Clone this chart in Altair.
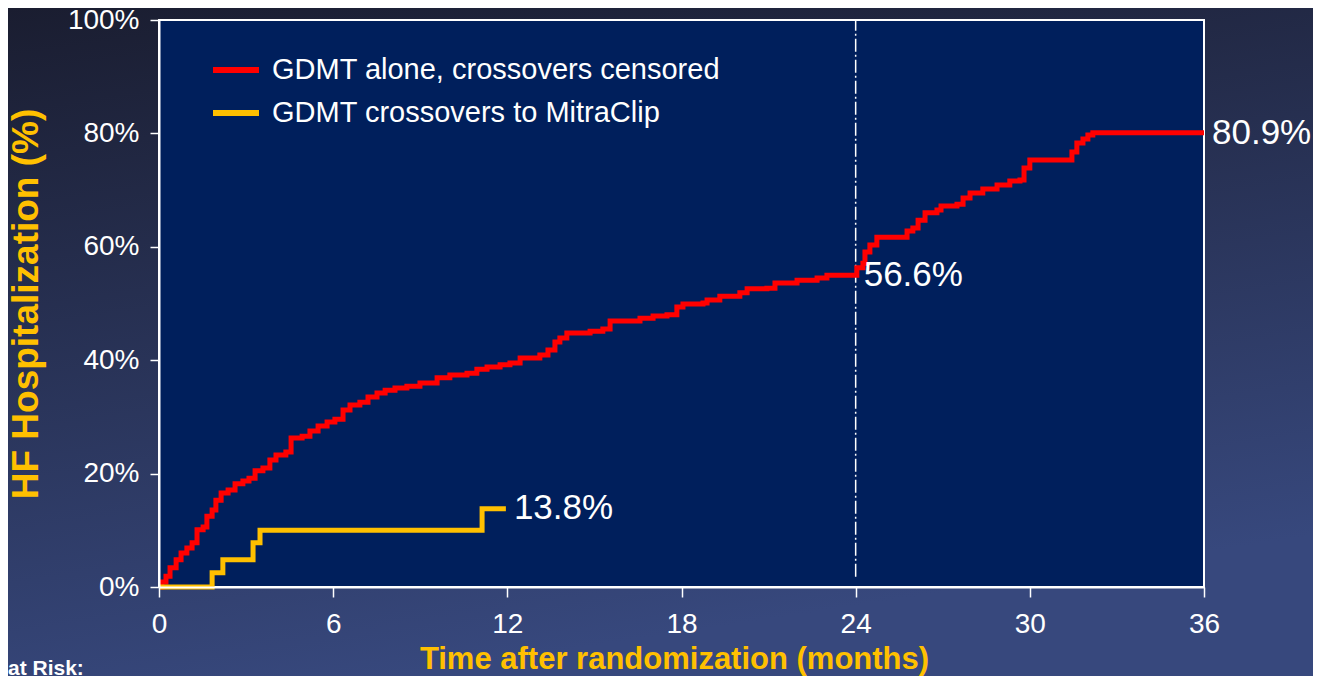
import altair as alt
import pandas as pd

# ---- data ----
red_month = [0.00, 0.10, 0.24, 0.38, 0.59, 0.76, 0.96, 1.14, 1.31, 1.52, 1.65, 1.83, 1.96, 2.14,
             2.38, 2.62, 2.89, 3.10, 3.31, 3.58, 3.82, 4.03, 4.37, 4.55, 4.93, 5.20, 5.48, 5.79,
             6.06, 6.34, 6.58, 6.92, 7.20, 7.51, 7.79, 8.13, 8.54, 8.99, 9.58, 10.02, 10.61,
             10.95, 11.30, 11.75, 12.09, 12.44, 13.12, 13.40, 13.64, 13.81, 14.05, 14.85, 15.29,
             15.54, 16.33, 16.57, 17.02, 17.50, 17.84, 18.05, 18.74, 18.88, 19.32, 20.01, 20.26,
             20.94, 21.22, 21.98, 22.67, 23.01, 23.91, 24.04, 24.25, 24.32, 24.49, 24.73, 25.53,
             25.77, 25.97, 26.15, 26.39, 26.80, 26.94, 27.49, 27.70, 27.94, 28.38, 28.87, 29.31,
             29.66, 29.80, 30.00, 31.28, 31.45, 31.62, 31.83, 32.00, 32.17, 36.00]
red_pct = [0.0, 0.9, 1.9, 3.4, 4.8, 6.0, 6.9, 7.8, 10.1, 10.6, 12.5, 13.6, 15.3, 16.6,
           17.1, 18.2, 18.7, 19.2, 20.5, 21.0, 22.4, 23.3, 23.8, 26.3, 26.6, 27.5, 28.4, 29.1,
           29.6, 31.2, 32.1, 32.6, 33.5, 34.2, 34.7, 35.1, 35.4, 36.0, 36.9, 37.4, 37.7,
           38.4, 38.8, 39.2, 39.5, 40.4, 40.9, 41.8, 43.2, 43.9, 44.8, 45.1, 45.5,
           46.9, 46.9, 47.4, 47.8, 48.0, 49.4, 49.9, 50.1, 50.6, 51.3, 51.9, 52.6,
           52.7, 53.6, 54.1, 54.5, 55.0, 55.0, 56.3, 57.1, 59.1, 60.3, 61.7, 61.7,
           62.8, 63.3, 64.7, 66.0, 66.5, 67.2, 67.5, 68.6, 69.5, 70.2, 70.9, 71.6,
           71.8, 73.9, 75.3, 75.3, 76.7, 78.3, 79.0, 79.7, 80.1, 80.1]

yel_month = [0.00, 1.83, 2.20, 3.24, 3.48, 11.13, 11.95]
yel_pct = [0.0, 2.5, 4.8, 7.8, 10.0, 13.8, 13.8]

series_names = ["GDMT alone, crossovers censored", "GDMT crossovers to MitraClip"]
series_colors = ["#ff0000", "#ffc000"]

label_month = [11.95, 24.0, 36.0]
label_pct = [13.9, 55.0, 80.1]
label_text = ["13.8%", "56.6%", "80.9%"]

x_ticks = [0, 6, 12, 18, 24, 30, 36]
y_ticks = [0, 20, 40, 60, 80, 100]

landmark_month = [24]

FONT = "Liberation Sans"
W, H = 1045, 567
PL, PT, PR, PB = 151, 12, 109, 89

lines = pd.DataFrame(
    {"month": red_month + yel_month,
     "pct": red_pct + yel_pct,
     "series": [series_names[0]] * len(red_month) + [series_names[1]] * len(yel_month)}
)
labels = pd.DataFrame({"month": label_month, "pct": label_pct, "text": label_text})
landmark = pd.DataFrame({"month": landmark_month, "y0": [1.8], "y1": [100]})
one = pd.DataFrame({"a": [0]})

xscale = alt.Scale(domain=[0, 36], nice=False, zero=False)
yscale = alt.Scale(domain=[0, 100], nice=False)

xaxis = alt.Axis(values=x_ticks, title="Time after randomization (months)", zindex=1,
                 labelFontSize=28, labelColor="white", labelFont=FONT, labelPadding=13,
                 labelFlush=False,
                 tickSize=10, tickColor="white", tickWidth=1.5, domainColor="white", domainWidth=2,
                 titleColor="#ffc000", titleFont=FONT, titleFontSize=31, titleFontWeight="bold",
                 titlePadding=6, titleX=515, grid=False)
yaxis = alt.Axis(values=y_ticks, title="HF Hospitalization (%)", zindex=1,
                 labelExpr="datum.value + '%'",
                 labelFontSize=28, labelColor="white", labelFont=FONT, labelPadding=11,
                 tickSize=9, tickColor="white", tickWidth=1.5, domainColor="white", domainWidth=2,
                 titleColor="#ffc000", titleFont=FONT, titleFontSize=37, titleFontWeight="bold",
                 titleX=-133, titleBaseline="middle", grid=False)

bg = alt.Chart(one).mark_rect(
    fill=alt.LinearGradient(gradient="linear", x1=0, y1=0, x2=0.3, y2=1,
                            stops=[alt.GradientStop(offset=0, color="#1a1d30"),
                                   alt.GradientStop(offset=1, color="#37487d")])
).encode(x=alt.value(-PL), x2=alt.value(W + PR), y=alt.value(-PT), y2=alt.value(H + PB))

panel = alt.Chart(one).mark_rect(fill="#001f5c", stroke="white", strokeWidth=2).encode(
    x=alt.value(0), x2=alt.value(W), y=alt.value(0), y2=alt.value(H))

rule = alt.Chart(landmark).mark_rule(color="white", strokeWidth=1.5, strokeDash=[13, 3, 2, 3]).encode(
    x=alt.X("month:Q", scale=xscale, axis=xaxis),
    y=alt.Y("y0:Q", scale=yscale, axis=yaxis),
    y2="y1:Q")

curves = alt.Chart(lines).mark_line(interpolate="step-after", strokeWidth=5).encode(
    x=alt.X("month:Q", scale=xscale, axis=xaxis),
    y=alt.Y("pct:Q", scale=yscale, axis=yaxis),
    color=alt.Color("series:N", sort=series_names,
                    scale=alt.Scale(domain=series_names, range=series_colors),
                    legend=alt.Legend(title=None, orient="none", legendX=51, legendY=24,
                                      direction="vertical", zindex=1,
                                      labelFontSize=29, labelColor="white", labelFont=FONT,
                                      symbolType="stroke", symbolStrokeWidth=6, symbolSize=2116,
                                      labelOffset=10, rowPadding=2, labelLimit=800)),
    order=alt.Order("month:Q"),
)

texts = alt.Chart(labels).mark_text(align="left", baseline="middle", dx=8, fontSize=35,
                                    color="white", font=FONT).encode(
    x=alt.X("month:Q", scale=xscale), y=alt.Y("pct:Q", scale=yscale), text="text:N")

risk = alt.Chart(one).mark_text(text="at Risk:", align="left", baseline="alphabetic", fontSize=21,
                                fontWeight="bold", color="white", font=FONT).encode(
    x=alt.value(-PL + 0), y=alt.value(H + PB - 1))

chart = alt.layer(bg, panel, rule, curves, texts, risk).properties(
    width=W, height=H,
    autosize=alt.AutoSizeParams(type="none"),
    padding={"left": PL, "top": PT, "right": PR, "bottom": PB},
    background="#1f2440",
).configure_view(stroke=None, fill=None)

chart.save("out.html", embed_options={"renderer": "svg", "actions": False})
